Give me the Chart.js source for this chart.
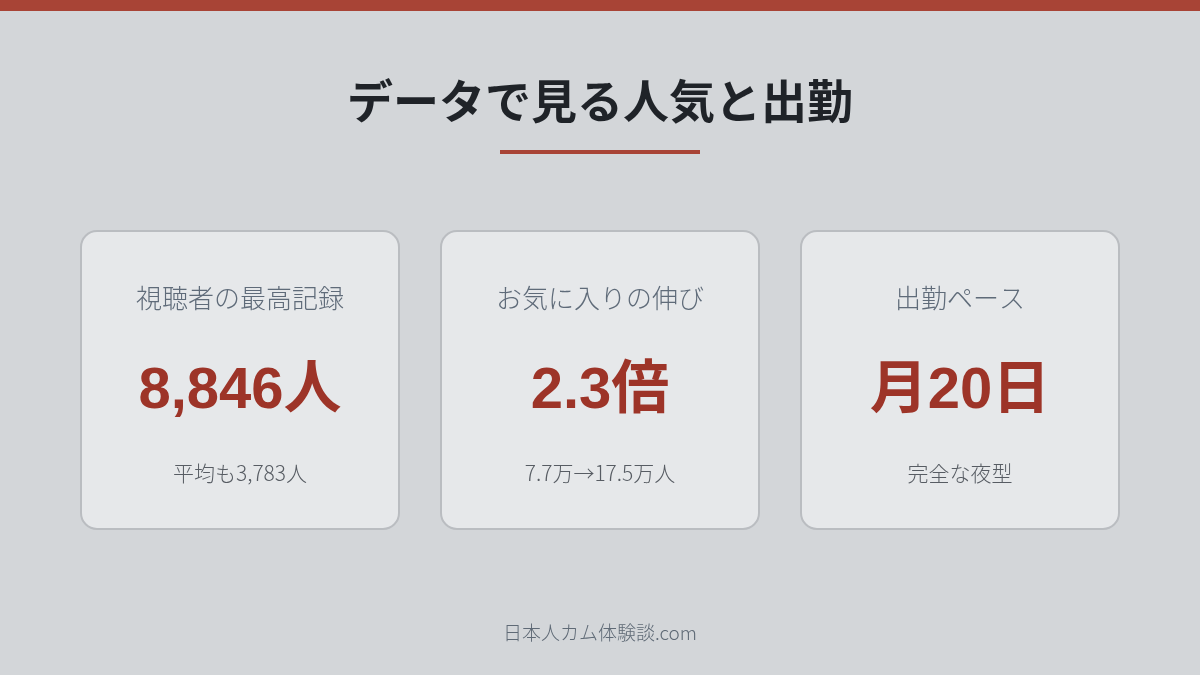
<!DOCTYPE html>
<html lang="ja">
<head>
<meta charset="utf-8">
<script src="https://cdn.jsdelivr.net/npm/chart.js@4"></script>
<style>
  html, body { margin: 0; padding: 0; background: #d3d6d9; }
  #wrap { width: 1200px; height: 675px; position: relative; }
</style>
</head>
<body>
<div id="wrap"><canvas id="myChart" width="1200" height="675"></canvas></div>
<script>
// データ
const pageTitle = 'データで見る人気と出勤';
const cardLabels = ['視聴者の最高記録', 'お気に入りの伸び', '出勤ペース'];
const cardValues = ['8,846人', '2.3倍', '月20日'];
const cardNotes = ['平均も3,783人', '7.7万→17.5万人', '完全な夜型'];
const footerText = '日本人カム体験談.com';

const RED = '#a84436';
const CJK = '"Noto Sans CJK JP", "Noto Sans", sans-serif';

// カードとか下線を描くプラグイン
const cardsPlugin = {
    id: 'cards',
    beforeDraw(chart) {
        let ctx = chart.ctx;
        ctx.save();
        ctx.fillStyle = '#d3d6d9';
        ctx.fillRect(0, 0, chart.width, chart.height);
        ctx.fillStyle = RED;
        ctx.fillRect(0, 0, chart.width, 11);
        ctx.restore();
    },
    afterDraw(chart) {
        let ctx = chart.ctx;
        ctx.save();
        // タイトル下の線
        ctx.fillStyle = RED;
        ctx.fillRect(500, 150, 200, 4);

        for (let i = 0; i < cardLabels.length; i++) {
            let x = 80 + i * 360, y = 230, w = 320, h = 300;
            ctx.beginPath();
            ctx.roundRect(x + 1, y + 1, w - 2, h - 2, 16);
            ctx.fillStyle = '#e6e8ea';
            ctx.fill();
            ctx.lineWidth = 2;
            ctx.strokeStyle = '#babdc1';
            ctx.stroke();

            let cx = x + w / 2;
            ctx.textAlign = 'center';
            ctx.textBaseline = 'middle';

            ctx.fillStyle = '#5f6b79';
            ctx.font = '300 26px ' + CJK;
            ctx.fillText(cardLabels[i], cx, 298);

            ctx.fillStyle = '#9d3428';
            ctx.font = '700 58px "Liberation Sans", ' + CJK;
            ctx.fillText(cardValues[i], cx, 392);

            ctx.fillStyle = '#575c63';
            ctx.font = '300 21px ' + CJK;
            ctx.fillText(cardNotes[i], cx, 473);
        }

        ctx.fillStyle = '#5f6a76';
        ctx.font = '300 19px ' + CJK;
        ctx.textAlign = 'center';
        ctx.textBaseline = 'middle';
        ctx.fillText(footerText, 600, 633);
        ctx.restore();
    }
};

let ctx = document.getElementById('myChart').getContext('2d');
let chart = new Chart(ctx, {
    type: 'bar',
    data: {
        labels: cardLabels,
        datasets: [{ data: [], backgroundColor: 'transparent' }]
    },
    options: {
        responsive: false,
        animation: false,
        events: [],
        layout: { padding: 0 },
        scales: { x: { display: false }, y: { display: false } },
        plugins: {
            legend: { display: false },
            tooltip: { enabled: false },
            title: {
                display: true,
                text: pageTitle,
                color: '#1f2328',
                font: { family: CJK, size: 46, weight: '700', lineHeight: 1.2 },
                padding: { top: 73, bottom: 0 }
            }
        }
    },
    plugins: [cardsPlugin]
});
</script>
</body>
</html>
